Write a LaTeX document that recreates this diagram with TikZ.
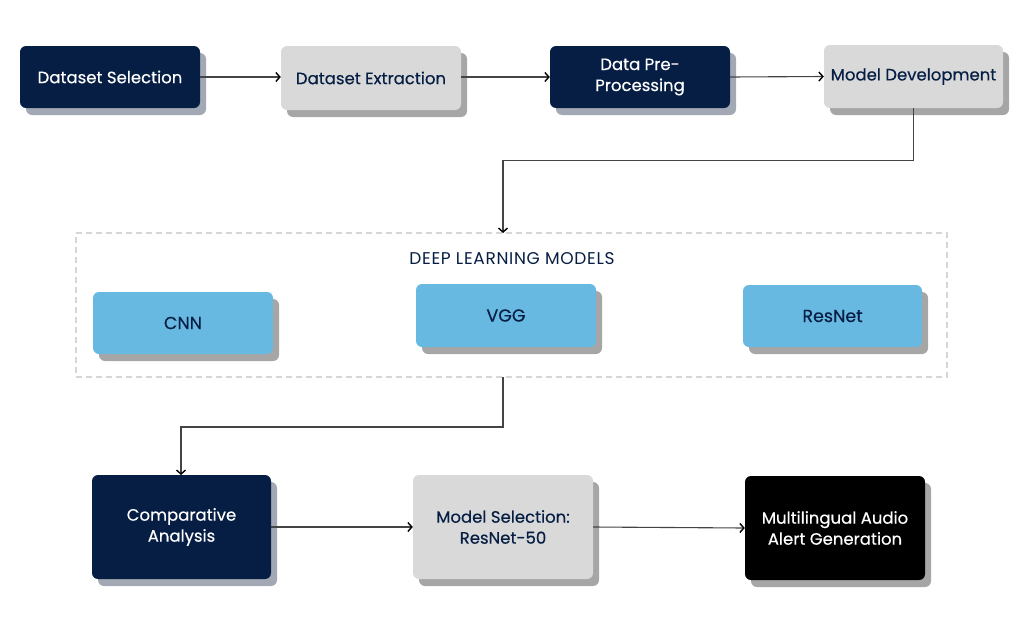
\documentclass[tikz,border=0pt]{standalone}
\usepackage{fontspec}
\setmainfont[FakeBold=0.35]{Poppins}
\newfontfamily\titlefont[LetterSpace=4]{Poppins}
\usetikzlibrary{arrows.meta,shadows}
\definecolor{navy}{HTML}{061E44}
\definecolor{navyshadow}{HTML}{A3A9B4}
\definecolor{lightbox}{HTML}{D9D9D9}
\definecolor{grayshadow}{HTML}{A6A6A6}
\definecolor{bluebox}{HTML}{67B9E2}
\definecolor{linegray}{HTML}{444444}
\definecolor{dashgray}{HTML}{D6D6D6}
\tikzset{
  boxbase/.style={rounded corners=6pt, inner sep=0pt, align=center,
    font=\fontsize{16.5}{21}\selectfont},
  darkbox/.style={boxbase, fill=navy, text=white,
    drop shadow={shadow xshift=6pt, shadow yshift=-7pt, fill=navyshadow, opacity=1}},
  graybox/.style={boxbase, fill=lightbox, text=navy,
    drop shadow={shadow xshift=6pt, shadow yshift=-7pt, fill=grayshadow, opacity=1}},
  bluebx/.style={boxbase, fill=bluebox, text=navy, font=\fontsize{17.5}{21}\selectfont,
    drop shadow={shadow xshift=6pt, shadow yshift=-7pt, fill=grayshadow, opacity=1}},
  blackbox/.style={boxbase, fill=black, text=white,
    drop shadow={shadow xshift=6pt, shadow yshift=-7pt, fill=grayshadow, opacity=1}},
  conn/.style={draw=linegray, line width=1.1pt, -{Straight Barb[length=4pt,width=9pt,line width=1.4pt,black]}},
}
\begin{document}
\begin{tikzpicture}[x=1pt,y=-1pt]
\useasboundingbox (0,0) rectangle (1024,624);
% top row
\node[darkbox, minimum width=180pt, minimum height=62pt] (ds) at (110,77) {Dataset Selection};
\node[graybox, minimum width=180pt, minimum height=64pt] (de) at (371,78) {Dataset Extraction};
\node[darkbox, minimum width=180pt, minimum height=62pt] (dp) at (640,77) {Data Pre-\\Processing};
\node[graybox, minimum width=179pt, minimum height=63pt] (md) at (913.5,76.5) {Model Development};
% dashed group
\node[draw=dashgray, dashed, line width=1.3pt, dash pattern=on 6pt off 4pt,
  minimum width=871pt, minimum height=144pt, inner sep=0pt] (dl) at (511.5,305) {};
\node[text=navy, font=\titlefont\fontsize{17}{21}\selectfont, inner sep=0pt] (dlt) at (512,259) {DEEP LEARNING MODELS};
\node[bluebx, minimum width=180pt, minimum height=62pt] (cnn) at (183,323) {CNN};
\node[bluebx, minimum width=180pt, minimum height=63pt] (vgg) at (506,315.5) {VGG};
\node[bluebx, minimum width=179pt, minimum height=62pt] (res) at (832.5,316) {ResNet};
% bottom row
\node[darkbox, minimum width=179pt, minimum height=104pt] (ca) at (181.5,527) {Comparative\\Analysis};
\node[graybox, minimum width=180pt, minimum height=104pt] (ms) at (503,527) {Model Selection:\\ResNet-50};
\node[blackbox, minimum width=180pt, minimum height=104pt] (ma) at (835,528) {Multilingual Audio\\Alert Generation};
% connector helpers
\coordinate (dlin) at (503,233);
\coordinate (dlout) at (503,377);
\coordinate (cain) at (181,475);
% connectors
\draw[conn] (ds.east) -- (de.west |- ds.east);
\draw[conn] (de.east |- dp.west) -- (dp.west);
\draw[conn] (dp.east) -- (md.west);
\draw[conn] (md.south) -- ++(0,52) -| (dlin);
\draw[conn] (dlout) -- ++(0,50) -| (cain);
\draw[conn] (ca.east) -- (ms.west);
\draw[conn] (ms.east) -- (ma.west);
\end{tikzpicture}
\end{document}
